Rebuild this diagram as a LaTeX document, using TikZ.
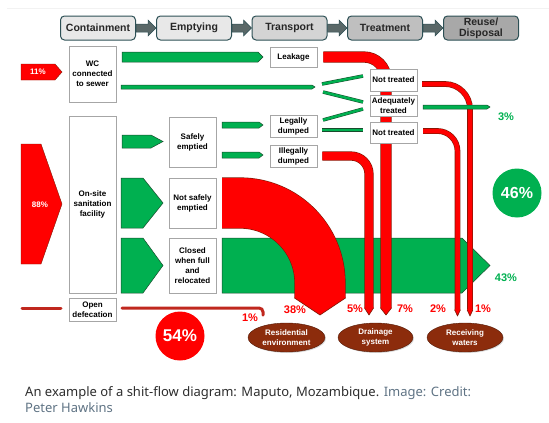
\documentclass[tikz,border=0pt]{standalone}
\usepackage{fontspec}
\setmainfont{Liberation Sans}
\newfontfamily\capfont{Noto Sans}
\usetikzlibrary{shadows,shapes.geometric,backgrounds}

\definecolor{sfgreen}{RGB}{0,176,80}
\definecolor{sfgreenline}{RGB}{25,75,45}
\definecolor{sfred}{RGB}{255,0,0}
\definecolor{sfredline}{RGB}{125,25,5}
\definecolor{sfdark}{RGB}{192,40,30}
\definecolor{sfbrown}{RGB}{140,44,12}
\definecolor{hdline}{RGB}{45,80,85}
\definecolor{hdarrow}{RGB}{90,104,104}
\definecolor{captext}{RGB}{45,45,45}
\definecolor{capcredit}{RGB}{95,115,132}

\tikzset{
  stage/.style={draw=hdline, fill=black!9, line width=1pt, rounded corners=4pt,
    minimum width=75pt, minimum height=24pt, inner sep=1pt, align=center,
    font=\fontsize{10.5}{11}\selectfont\bfseries, text=black!85},
  sfbox/.style={draw=black!35, fill=white, line width=0.5pt, minimum width=47pt,
    inner sep=0.5pt, align=center, font=\fontsize{8}{10}\selectfont\bfseries,
    drop shadow={shadow xshift=1pt, shadow yshift=-1pt, opacity=0.3}},
  gflow/.style={fill=sfgreen, draw=sfgreenline, line width=0.5pt},
  gline/.style={draw=sfgreenline, line width=0.5pt, double=sfgreen, double distance=2.5pt},
  rflow/.style={draw=sfredline, line width=0.6pt, double=sfred},
  inflow/.style={fill=sfred, draw=sfredline, line width=0.4pt},
  pcin/.style={text=white, font=\fontsize{8}{8}\selectfont\bfseries},
  pcred/.style={text=sfred, font=\fontsize{11}{11}\selectfont\bfseries},
  pcgreen/.style={text=sfgreen, font=\fontsize{11}{11}\selectfont\bfseries},
  sink/.style={ellipse, fill=sfbrown, draw=sfbrown!60!black, minimum width=77pt,
    minimum height=29pt, inner sep=0pt, align=center, text=white,
    font=\fontsize{8}{10}\selectfont\bfseries,
    drop shadow={shadow xshift=1pt, shadow yshift=-1pt, opacity=0.3}},
  total/.style={circle, minimum size=49pt, inner sep=0pt, text=white,
    font=\fontsize{17}{17}\selectfont\bfseries}
}

% pointed end of a red flow: x, y, half width, length
\newcommand{\flowtip}[4]{%
  \fill[sfred] ({#1-#3+0.3},{#2-1}) -- ({#1+#3-0.3},{#2-1}) -- ({#1+#3},#2) -- (#1,{#2+#4}) -- ({#1-#3},#2) -- cycle;
  \draw[sfredline, line width=0.6pt, line join=round] ({#1-#3},#2) -- (#1,{#2+#4}) -- ({#1+#3},#2);}

\begin{document}
\begin{tikzpicture}[x=1pt, y=-1pt]
  \useasboundingbox (0,0) rectangle (549,423);
  \draw[black!5] (7,8) -- (549,8);

  % stages
  \node[stage] (cont) at (98,28) {Containment};
  \node[stage] (empt) at (194,28) {Emptying};
  \node[stage, fill=black!17] (trans) at (289.5,28) {Transport};
  \node[stage, fill=black!25] (treat) at (385,28) {Treatment};
  \node[stage, fill=black!34] (reuse) at (481,28) {Reuse/\\Disposal};
  \foreach \s/\t in {cont/empt,empt/trans,trans/treat,treat/reuse}
    \filldraw[fill=hdarrow, draw=hdline, line width=0.5pt]
      ([yshift=4pt]\s.east) -- ([xshift=-8pt,yshift=4pt]\t.west) -- ([xshift=-8pt,yshift=8pt]\t.west)
      -- (\t.west) -- ([xshift=-8pt,yshift=-8pt]\t.west) -- ([xshift=-8pt,yshift=-4pt]\t.west)
      -- ([yshift=-4pt]\s.east) -- cycle;

  % containment
  \node[sfbox, minimum height=56pt] (wc) at (92.5,74) {WC\\connected\\to sewer};
  \node[sfbox, minimum height=177pt] (onsite) at (92.5,204.5) {On-site\\sanitation\\facility};
  \node[sfbox, minimum height=23pt] (open) at (92.5,309.5) {Open\\defecation};
  % emptying
  \node[sfbox, minimum height=50pt] (safe) at (192.5,142) {Safely\\emptied};
  \node[sfbox, minimum height=50pt] (unsafe) at (192.5,203) {Not safely\\emptied};
  \node[sfbox, minimum height=55pt] (closed) at (192.5,265.5) {Closed\\when full\\and\\relocated};
  % transport
  \node[sfbox, minimum height=20pt] (leak) at (293.5,57) {Leakage};
  \node[sfbox, minimum height=22pt] (legal) at (293.5,126) {Legally\\dumped};
  \node[sfbox, minimum height=22pt] (illegal) at (293.5,156) {Illegally\\dumped};
  % treatment
  \node[sfbox, minimum height=22pt] (nt1) at (393.5,80) {Not treated};
  \node[sfbox, minimum height=21pt] (adeq) at (393.5,105.5) {Adequately\\treated};
  \node[sfbox, minimum height=21pt] (nt2) at (393.5,132.5) {Not treated};

  % inflows
  \filldraw[inflow] (21,64) -- (55,64) -- (62,72) -- (55,80) -- (21,80) -- cycle;
  \node[pcin] (in11) at (38,72) {11\%};
  \filldraw[inflow] (21,144) -- (41,144) -- (62,204) -- (41,264) -- (21,264) -- cycle;
  \node[pcin] (in88) at (40,205) {88\%};

  \begin{scope}[on background layer]
    % green flows
    \filldraw[gflow] (122,52) -- (258,52) -- (263,57) -- (258,62) -- (122,62) -- cycle;
    \filldraw[gflow] (121,85) -- (312,85) -- (315,87) -- (312,89) -- (121,89) -- cycle;
    \filldraw[gflow] (122,135) -- (151,135) -- (163,141.5) -- (151,148) -- (122,148) -- cycle;
    \filldraw[gflow] (121,178) -- (143,178) -- (163,203) -- (143,228) -- (121,228) -- cycle;
    \filldraw[gflow] (121,238) -- (143,238) -- (163,265.5) -- (143,293) -- (121,293) -- cycle;
    \filldraw[gflow] (222,122) -- (259,122) -- (263,125) -- (259,128) -- (222,128) -- cycle;
    \filldraw[gflow] (222,152) -- (259,152) -- (263,155) -- (259,158) -- (222,158) -- cycle;
    \filldraw[gflow] (222,238) -- (462,238) -- (490,265.5) -- (462,293) -- (222,293) -- cycle;
    % red flows
    \draw[rflow, double distance=50pt, rounded corners=80pt] (222,203) -- (320,203) -- (320,298);
    \flowtip{320}{298}{25.5}{17}
    \draw[rflow, double distance=10pt, rounded corners=22pt] ([xshift=6pt]leak.east) -- (386,57) -- (386,308);
    \flowtip{386}{308}{5.5}{7}
    \draw[rflow, double distance=8pt, rounded corners=18pt] ([xshift=5pt]illegal.east) -- (369,156) -- (369,308);
    \flowtip{369}{308}{4.5}{7}
    \draw[rflow, double distance=4.5pt, rounded corners=25pt] (422,84) -- (470,84) -- (470,310);
    \flowtip{470}{310}{2.8}{6}
    \draw[rflow, double distance=4.5pt, rounded corners=20pt] (423,131) -- (457.5,131) -- (457.5,310);
    \flowtip{457.5}{310}{2.8}{6}
    % to treatment
    \draw[gline] (322,84) -- (363,76);
    \draw[gline] (323,92) -- (363,102);
    \draw[gline] (323,120) -- (363,109);
    \draw[gline] (322,130) -- (363,130);
    \filldraw[gflow] (423,105) -- (487,105) -- (490,107) -- (487,109) -- (423,109) -- cycle;
  \end{scope}

  % open defecation
  \draw[sfdark, line width=3pt, line cap=round] (22,308) -- (61,308);
  \draw[sfdark, line width=3pt, line cap=round, rounded corners=4pt] (122,308) -- (263,308) -- (263,315);

  % sinks
  \node[sink] (resid) at (286.5,337.5) {Residential\\environment};
  \node[sink, minimum width=75pt] (drain) at (375.5,337.5) {Drainage\\system};
  \node[sink, minimum width=76pt] (water) at (465,337.5) {Receiving\\waters};

  % shares
  \node[pcred] (p1a) at (250,318) {1\%};
  \node[pcred] (p38) at (295,310) {38\%};
  \node[pcred] (p5) at (355,309) {5\%};
  \node[pcred] (p7) at (405,309) {7\%};
  \node[pcred] (p2) at (438,309) {2\%};
  \node[pcred] (p1b) at (483,309) {1\%};
  \node[pcgreen] (p3) at (506,117) {3\%};
  \node[pcgreen] (p43) at (506,278) {43\%};
  \node[total, fill=sfred] (unsafe54) at (180,336) {54\%};
  \node[total, fill=sfgreen, font=\fontsize{16}{16}\selectfont\bfseries] (safe46) at (517,193) {46\%};

  % caption
  \node[anchor=base west, inner sep=0pt, text=captext, font=\capfont\fontsize{13}{16}\selectfont] (cap) at (25,396)
    {An example of a shit-flow diagram: Maputo, Mozambique. \textcolor{capcredit}{Image: Credit:}};
  \node[anchor=base west, inner sep=0pt, text=capcredit, font=\capfont\fontsize{13}{16}\selectfont] (credit) at (25,412)
    {Peter Hawkins};
\end{tikzpicture}
\end{document}
